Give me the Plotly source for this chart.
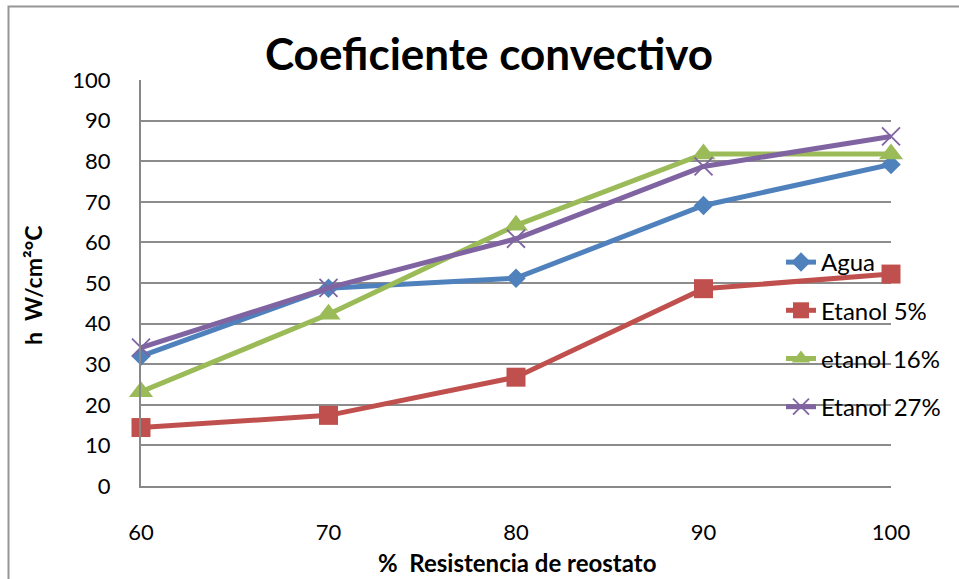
import plotly.graph_objects as go

x_vals = [60, 70, 80, 90, 100]
agua = [32.0, 48.7, 51.2, 69.1, 79.2]
etanol5 = [14.4, 17.4, 26.8, 48.6, 52.2]
etanol16 = [23.2, 42.3, 64.2, 81.8, 81.8]
etanol27 = [34.1, 48.8, 60.9, 78.7, 86.1]

names = ["Agua", "Etanol 5%", "etanol 16%", "Etanol 27%"]
series = [agua, etanol5, etanol16, etanol27]
colors = ["#4F81BD", "#C0504D", "#9BBB59", "#8064A2"]
symbols = ["diamond", "square", "triangle-up", "x-thin"]
msizes = [15, 19, 21, 18]

W, H = 959, 579
L, R, T, B = 141, 891, 80, 486

fig = go.Figure()
for i, (nm, ys) in enumerate(zip(names, series)):
    marker = dict(symbol=symbols[i], size=msizes[i], color=colors[i])
    if symbols[i] == "x-thin":
        marker["line"] = dict(color=colors[i], width=1.8)
    fig.add_trace(go.Scatter(
        x=x_vals, y=ys, name=nm, mode="lines+markers",
        line=dict(color=colors[i], width=5),
        marker=marker, legendgroup=nm, cliponaxis=False,
    ))

font = "Lato, Carlito, Calibri, sans-serif"


def px_x(p):
    return (p - L) / (R - L)


def px_y(p):
    return (B - p) / (B - T)


fig.update_layout(
    width=W, height=H,
    margin=dict(l=L, r=W - R, t=T, b=H - B, autoexpand=False),
    paper_bgcolor="white", plot_bgcolor="white",
    font=dict(family=font, color="black"),
    title=dict(text="<b>Coeficiente convectivo</b>", font=dict(size=44, family=font),
               x=px_x(489), xref="paper", xanchor="center",
               y=1 - 55 / H, yanchor="middle"),
    xaxis=dict(range=[60, 100], tickvals=x_vals, showgrid=False, zeroline=False,
               showline=True, linecolor="#888888", linewidth=2, automargin=False,
               tickfont=dict(size=22), ticks="", ticklabelstandoff=26),
    yaxis=dict(range=[0, 100], dtick=10, showgrid=True, gridcolor="#8C8C8C", gridwidth=2,
               zeroline=False, showline=True, linecolor="#888888", linewidth=2, automargin=False,
               tickfont=dict(size=22), ticks="", ticklabelstandoff=24),
    legend=dict(x=px_x(781), y=px_y(240), xanchor="left", yanchor="top",
                bgcolor="rgba(0,0,0,0)", font=dict(size=24, family=font),
                tracegroupgap=14, itemwidth=30),
    showlegend=True,
    annotations=[
        dict(text="<b>%  Resistencia de reostato</b>", xref="paper", yref="paper",
             x=px_x(517), y=px_y(562), xanchor="center", yanchor="middle",
             showarrow=False, font=dict(size=24, family=font)),
        dict(text="<b>h  W/cm²°C</b>", xref="paper", yref="paper",
             x=px_x(33), y=px_y(286), xanchor="center", yanchor="middle", textangle=-90,
             showarrow=False, font=dict(size=23, family=font)),
    ],
    shapes=[dict(type="rect", xref="paper", yref="paper",
                 x0=px_x(8.5), x1=px_x(1000), y0=px_y(620), y1=px_y(6.5),
                 line=dict(color="#969696", width=2), fillcolor="rgba(0,0,0,0)", layer="below")],
)

fig.write_html("out.html")
